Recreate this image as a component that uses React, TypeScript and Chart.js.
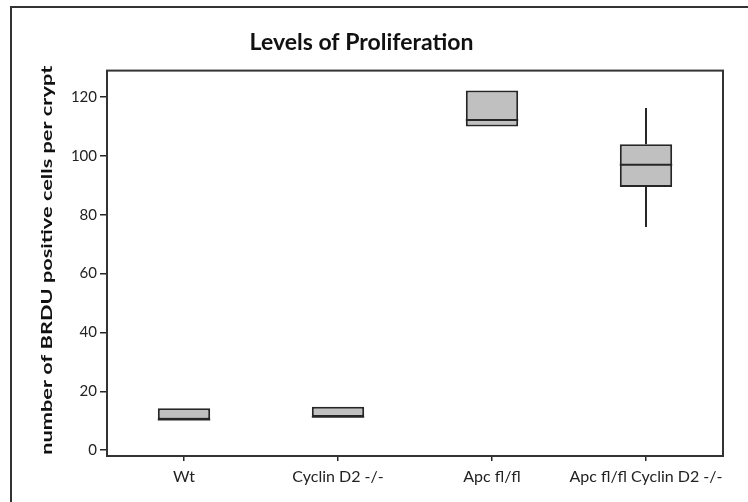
import React, { useEffect, useRef } from 'react';
import { Chart, registerables } from 'chart.js';

Chart.register(...registerables);

const categories = ['Wt', 'Cyclin D2 -/-', 'Apc fl/fl', 'Apc fl/fl Cyclin D2 -/-'];
const whiskerLow = [10.4, 11.3, 110.0, 75.8];
const q1 = [10.4, 11.3, 110.0, 89.4];
const median = [10.4, 11.3, 112.2, 97.0];
const q3 = [14.2, 14.7, 122.2, 104.0];
const whiskerHigh = [14.2, 14.7, 122.2, 116.3];
const yTicks = [0, 20, 40, 60, 80, 100, 120];
const yMin = -2;
const yMax = 129;

const titleText = 'Levels of Proliferation';
const yTitleText = 'number of BRDU positive cells per crypt';

const FONT = 'Lato, "Open Sans", sans-serif';
const INK = '#262626';

const boxExtras = {
  id: 'boxExtras',
  afterDatasetsDraw(chart: any) {
    const meta = chart.getDatasetMeta(0);
    const ys = chart.scales.y;
    const ctx = chart.ctx;
    ctx.save();
    ctx.strokeStyle = INK;
    meta.data.forEach((bar: any, i: number) => {
      const { x, width } = bar.getProps(['x', 'width'], true);
      ctx.lineWidth = 2;
      ctx.beginPath();
      if (whiskerHigh[i] > q3[i]) {
        ctx.moveTo(x, ys.getPixelForValue(q3[i]));
        ctx.lineTo(x, ys.getPixelForValue(whiskerHigh[i]));
      }
      if (whiskerLow[i] < q1[i]) {
        ctx.moveTo(x, ys.getPixelForValue(q1[i]));
        ctx.lineTo(x, ys.getPixelForValue(whiskerLow[i]));
      }
      ctx.stroke();
      ctx.beginPath();
      const my = ys.getPixelForValue(median[i]);
      ctx.moveTo(x - width / 2, my);
      ctx.lineTo(x + width / 2, my);
      ctx.stroke();
    });
    ctx.restore();
  },
};

const frames = {
  id: 'frames',
  beforeDraw(chart: any) {
    const ctx = chart.ctx;
    ctx.save();
    ctx.fillStyle = '#ffffff';
    ctx.fillRect(0, 0, chart.width, chart.height);
    ctx.strokeStyle = '#333333';
    ctx.lineWidth = 2;
    ctx.strokeRect(11, 7, chart.width + 20, chart.height + 20);
    ctx.restore();
  },
  afterDraw(chart: any) {
    const { left, top, right, bottom } = chart.chartArea;
    const ctx = chart.ctx;
    ctx.save();
    ctx.strokeStyle = '#333333';
    ctx.lineWidth = 2;
    ctx.strokeRect(left, top, right - left, bottom - top);
    // stretched y-axis title, as in the reference
    ctx.translate(47, (top + bottom) / 2 - 3);
    ctx.rotate(-Math.PI / 2);
    ctx.scale(1.36, 1);
    ctx.fillStyle = '#111';
    ctx.font = `bold 16px ${FONT}`;
    ctx.textAlign = 'center';
    ctx.textBaseline = 'middle';
    ctx.fillText(yTitleText, 0, 0);
    ctx.restore();
  },
};

export default function App() {
  const ref = useRef<HTMLCanvasElement | null>(null);

  useEffect(() => {
    if (!ref.current) return;
    const chart = new Chart(ref.current, {
      type: 'bar',
      data: {
        labels: categories,
        datasets: [
          {
            data: categories.map((_, i) => [q1[i], q3[i]]) as any,
            backgroundColor: '#c0c0c0',
            borderColor: INK,
            borderWidth: 2,
            borderSkipped: false,
            barPercentage: 0.34,
            categoryPercentage: 1,
          },
        ],
      },
      options: {
        animation: false,
        responsive: false,
        devicePixelRatio: 1,
        layout: { padding: { left: 0, right: 25, top: 0, bottom: 0 } },
        plugins: {
          legend: { display: false },
          tooltip: { enabled: false },
          title: {
            display: true,
            text: titleText,
            color: '#111',
            font: { family: FONT, size: 23, weight: 'bold', lineHeight: 1.2 },
            padding: { top: 29, bottom: 14 },
          },
        },
        scales: {
          x: {
            offset: true,
            grid: { offset: false, drawOnChartArea: false, drawTicks: true, tickLength: 5, color: INK, lineWidth: 1.5 },
            border: { display: false },
            ticks: {
              color: '#222',
              font: { family: FONT, size: 16 },
              maxRotation: 0,
              minRotation: 0,
              autoSkip: false,
              padding: 6,
            },
            afterFit(scale: any) {
              scale.height = 46;
            },
          },
          y: {
            min: yMin,
            max: yMax,
            grid: { drawOnChartArea: false, drawTicks: true, tickLength: 7, color: INK, lineWidth: 1.5 },
            border: { display: false },
            ticks: {
              color: '#222',
              font: { family: FONT, size: 15 },
              padding: 3,
            },
            afterBuildTicks(scale: any) {
              scale.ticks = yTicks.map((v) => ({ value: v }));
            },
            afterFit(scale: any) {
              scale.width = 107;
            },
          },
        },
      },
      plugins: [frames, boxExtras],
    });
    return () => chart.destroy();
  }, []);

  return (
    <div style={{ position: 'fixed', left: 0, top: 0, width: 748, height: 502 }}>
      <canvas ref={ref} width={748} height={502} style={{ width: 748, height: 502, display: 'block' }} />
    </div>
  );
}
